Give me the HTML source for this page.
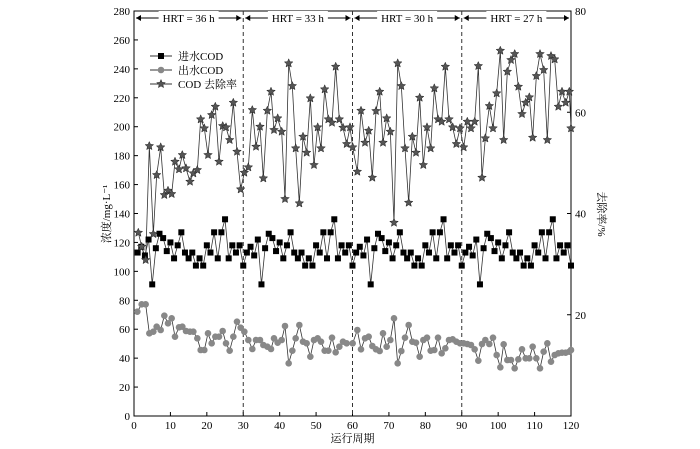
<!DOCTYPE html><html><head><meta charset="utf-8"><style>body{margin:0;background:#fff}svg{display:block}text{font-family:"Liberation Serif","Noto Serif CJK SC",serif;font-size:11px;fill:#000}</style></head><body>
<svg id="s" width="700" height="449" xmlns="http://www.w3.org/2000/svg"></svg>
<script>
const s=document.getElementById('s');let h='';
const L=134,R=571,T=11,B=416;
const X=v=>L+v*(R-L)/120,Y=v=>B-v*(B-T)/280;
h+=`<rect x="${L}" y="${T}" width="${R-L}" height="${B-T}" fill="none" stroke="#000" stroke-width="1"/>`;
for(let v=0;v<=280;v+=20){let y=Y(v);h+=`<line x1="${L}" y1="${y}" x2="${L+4}" y2="${y}" stroke="#000"/><text x="${L-4}" y="${y+4}" text-anchor="end">${v}</text>`;}
for(let v=0;v<=80;v+=20){let y=B-v*(B-T)/80;h+=`<line x1="${R-4}" y1="${y}" x2="${R}" y2="${y}" stroke="#000"/>`;if(v)h+=`<text x="${R+4}" y="${y+4}">${v}</text>`;}
for(let v=0;v<=120;v+=10){let x=X(v);h+=`<line x1="${x}" y1="${B}" x2="${x}" y2="${B-4}" stroke="#000"/><text x="${x}" y="${B+13}" text-anchor="middle">${v}</text>`;}
[30,60,90].forEach(v=>{h+=`<line x1="${X(v)}" y1="${T}" x2="${X(v)}" y2="${B}" stroke="#333" stroke-dasharray="4,3"/>`;});
[[0,30,'HRT = 36 h'],[30,60,'HRT = 33 h'],[60,90,'HRT = 30 h'],[90,120,'HRT = 27 h']].forEach(([a,b,t])=>{let x1=X(a)+2,x2=X(b)-2,m=(x1+x2)/2;h+=`<line x1="${x1}" y1="18" x2="${x2}" y2="18" stroke="#000"/><path d="M${x1} 18l5 -3v6z M${x2} 18l-5 -3v6z" fill="#000"/><rect x="${m-30}" y="11" width="60" height="14" fill="#fff"/><text x="${m}" y="22" text-anchor="middle">${t}</text>`;});
const pat=[113,117,111,122,91,116,126,123,114,120,109,118,127,113,109,113,104,109,104,118,113,127,109,127,136,109,118,113,118,104];
let inf=[];for(let i=1;i<=120;i++)inf.push([X(i),Y(pat[(i-1)%30])]);
const e1=[[22,815],[35,793],[47,793],[58,880],[70,875],[80,860],[92,870],[103,827],[114,850],[125,835],[135,890],[147,862],[157,860],[168,873],[180,875],[190,875],[202,895],[212,930],[223,930],[234,880],[245,910],[256,890],[267,890],[278,873],[288,910],[299,932],[310,890],[321,845],[332,863],[343,875],[355,900],[367,927],[378,900],[390,900],[400,915],[412,920],[423,927],[432,895],[443,908],[455,900],[465,858],[476,970],[487,932],[497,895],[508,855],[519,905],[530,910],[541,950],[552,900],[563,895],[573,905],[584,932],[595,932],[606,893],[617,937],[628,920],[639,905],[650,910]];
const e2=[[8,910],[22,870],[33,928],[45,895],[56,890],[67,918],[78,928],[89,933],[99,880],[110,920],[121,900],[132,835],[143,970],[154,933],[165,893],[176,855],[187,905],[198,908],[209,950],[220,900],[231,893],[242,932],[253,930],[264,893],[275,940],[286,925],[297,900],[308,898],[319,905],[330,910],[341,910],[352,912],[363,915],[374,928],[385,962],[396,912],[406,900],[418,912],[429,893],[440,945],[451,982],[461,913],[472,960],[483,960],[494,985],[505,958],[516,928],[527,955],[538,955],[548,920],[559,955],[570,985],[581,935],[592,910],[603,965],[614,945],[625,940],[636,938],[647,938],[658,935],[663,930]];
const s1=[[25,578],[35,620],[47,660],[58,318],[70,582],[80,405],[92,322],[103,465],[114,452],[125,462],[135,365],[147,388],[157,345],[168,385],[180,425],[190,400],[202,390],[212,238],[223,265],[234,345],[245,225],[256,200],[267,365],[278,258],[288,262],[299,300],[310,188],[321,335],[332,448],[343,398],[355,382],[367,210],[378,320],[390,260],[400,415],[412,212],[423,155],[432,270],[443,235],[455,275],[465,477],[476,70],[487,138],[497,325],[508,490],[519,290],[530,338],[541,175],[552,375],[563,262],[573,325],[584,148],[595,238],[606,248],[617,80],[628,238],[639,263],[650,312]];
const s2=[[0,262],[8,322],[22,395],[33,212],[45,308],[56,272],[67,413],[78,213],[89,155],[99,308],[110,235],[121,275],[132,548],[143,70],[154,138],[165,325],[176,488],[187,290],[198,338],[209,173],[220,375],[231,262],[242,325],[253,145],[264,238],[275,245],[286,80],[297,238],[308,262],[319,312],[330,265],[341,322],[352,245],[363,265],[374,245],[385,78],[396,413],[406,295],[418,198],[429,265],[440,160],[451,32],[461,300],[472,95],[483,60],[494,42],[505,140],[516,222],[527,188],[538,172],[548,293],[559,108],[570,42],[581,90],[592,300],[603,48],[614,58],[625,200],[636,155],[647,188],[658,155],[663,265]];
const m1=a=>a.map(([x,y])=>[130+x/3,40+y/3]),m2=a=>a.map(([x,y])=>[350+x/3,40+y/3]);
const eff=m1(e1).concat(m2(e2)),st=m1(s1).concat(m2(s2));
const pl=a=>`<polyline fill="none" stroke="#333" stroke-width="0.8" points="${a.map(p=>p.join(',')).join(' ')}"/>`;
const star=(x,y,r)=>{let p=[];for(let k=0;k<10;k++){let a=-Math.PI/2+k*Math.PI/5,rr=k%2?r*0.45:r;p.push((x+rr*Math.cos(a)).toFixed(1)+','+(y+rr*Math.sin(a)).toFixed(1));}return `<polygon points="${p.join(' ')}" fill="#555" stroke="#222" stroke-width="0.5"/>`;};
h+=pl(inf)+pl(eff)+pl(st);
inf.forEach(([x,y])=>h+=`<rect x="${x-3}" y="${y-3}" width="6" height="6" fill="#000"/>`);
eff.forEach(([x,y])=>h+=`<circle cx="${x}" cy="${y}" r="3.3" fill="#888"/>`);
st.forEach(([x,y])=>h+=star(x,y,4.5));
// legend
let ly=[56,70,84];
ly.forEach(y=>h+=`<line x1="150" y1="${y}" x2="172" y2="${y}" stroke="#333"/>`);
h+=`<rect x="158" y="53" width="6" height="6" fill="#000"/><circle cx="161" cy="70" r="3.3" fill="#888"/>`+star(161,84,4.5);
h+=`<text x="178" y="60">进水COD</text><text x="178" y="74">出水COD</text><text x="178" y="88">COD 去除率</text>`;
h+=`<text x="${(L+R)/2}" y="442" text-anchor="middle">运行周期</text>`;
h+=`<text transform="translate(110,214) rotate(-90)" text-anchor="middle">浓度/mg·L⁻¹</text>`;
h+=`<text transform="translate(598,214) rotate(90)" text-anchor="middle">去除率/%</text>`;
s.innerHTML=h;
</script></body></html>
